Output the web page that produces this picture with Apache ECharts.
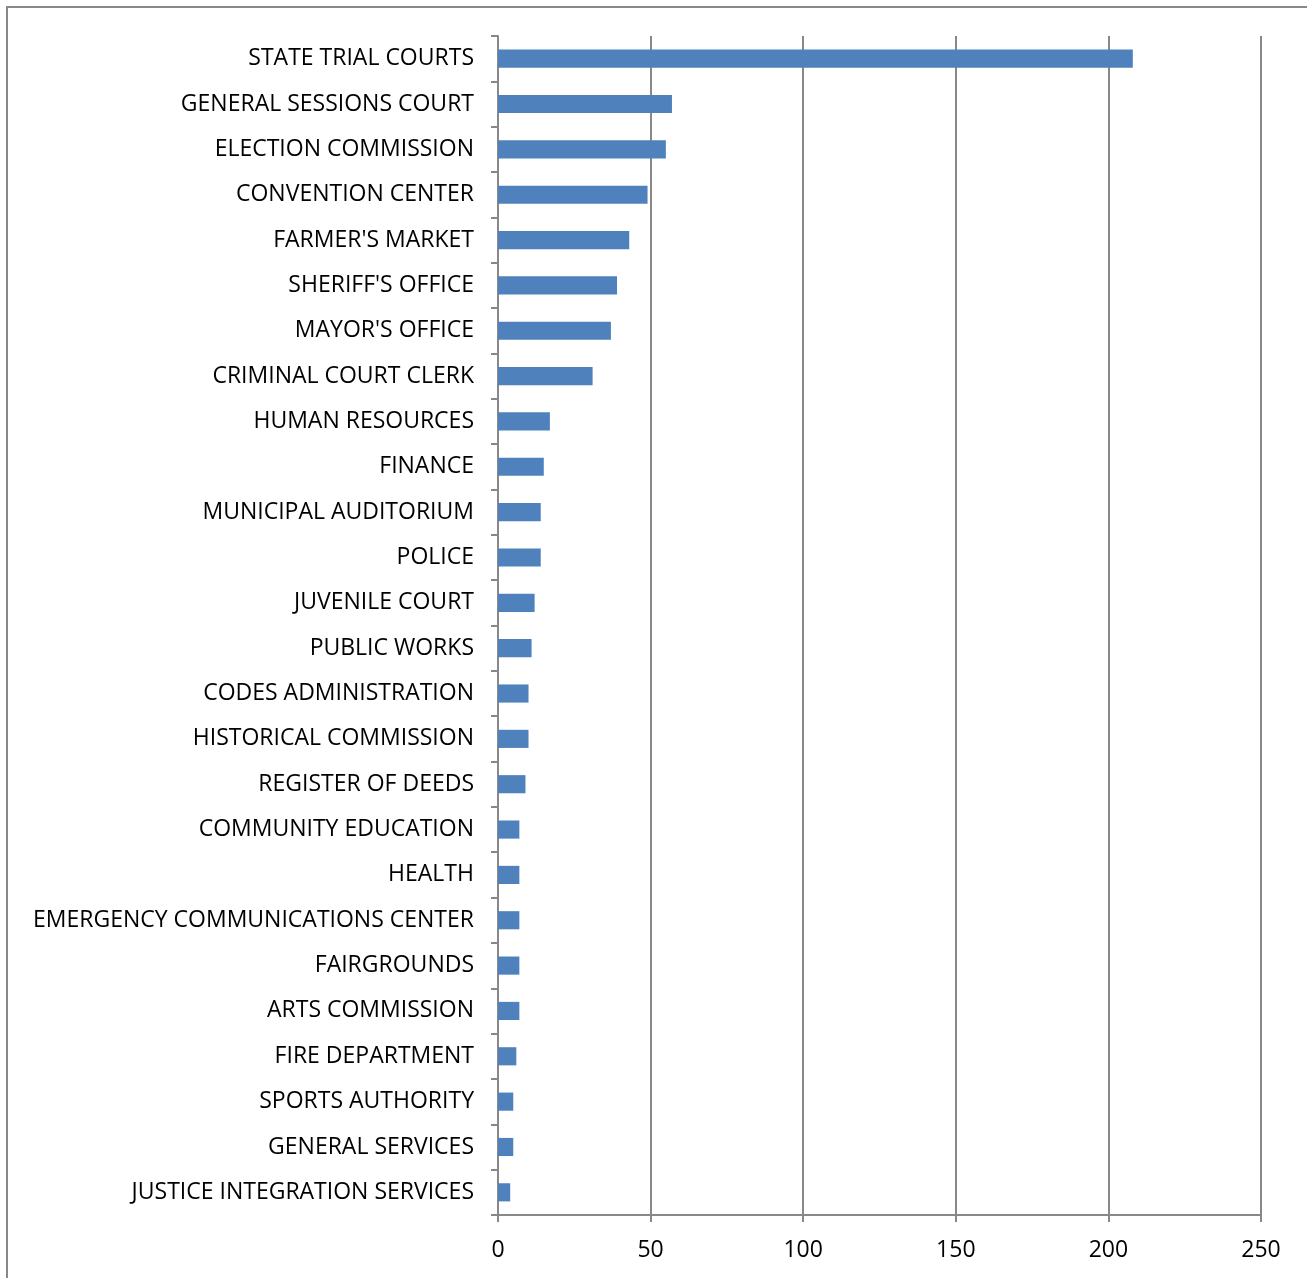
<!DOCTYPE html>
<html>
<head>
<meta charset="utf-8">
<script src="https://cdn.jsdelivr.net/npm/echarts@6/dist/echarts.min.js"></script>
<style>
  html, body { margin: 0; padding: 0; background: #fff; }
  #chart { width: 1307px; height: 1278px; }
</style>
</head>
<body>
<div id="chart"></div>
<script>
const departments = [
  'STATE TRIAL COURTS', 'GENERAL SESSIONS COURT', 'ELECTION COMMISSION', 'CONVENTION CENTER',
  "FARMER'S MARKET", "SHERIFF'S OFFICE", "MAYOR'S OFFICE", 'CRIMINAL COURT CLERK',
  'HUMAN RESOURCES', 'FINANCE', 'MUNICIPAL AUDITORIUM', 'POLICE', 'JUVENILE COURT',
  'PUBLIC WORKS', 'CODES ADMINISTRATION', 'HISTORICAL COMMISSION', 'REGISTER OF DEEDS',
  'COMMUNITY EDUCATION', 'HEALTH', 'EMERGENCY COMMUNICATIONS CENTER', 'FAIRGROUNDS',
  'ARTS COMMISSION', 'FIRE DEPARTMENT', 'SPORTS AUTHORITY', 'GENERAL SERVICES',
  'JUSTICE INTEGRATION SERVICES'
];
const counts = [208, 57, 55, 49, 43, 39, 37, 31, 17, 15, 14, 14, 12, 11, 10, 10, 9, 7, 7, 7, 7, 7, 6, 5, 5, 4];

const chart = echarts.init(document.getElementById('chart'));
chart.setOption({
  animation: false,
  textStyle: { fontFamily: 'Open Sans' },
  graphic: [{
    type: 'rect',
    shape: { x: 7, y: 7, width: 1330, height: 1330 },
    style: { fill: 'none', stroke: '#888', lineWidth: 2 },
    silent: true
  }],
  grid: { left: 498, right: 46, top: 36, bottom: 63, containLabel: false },
  xAxis: {
    type: 'value',
    min: 0, max: 250, interval: 50,
    axisLine: { show: true, lineStyle: { color: '#888', width: 2 } },
    axisTick: { show: true, length: 7, lineStyle: { color: '#888', width: 2 } },
    axisLabel: { color: '#000', fontSize: 23, margin: 24 },
    splitLine: { show: true, lineStyle: { color: '#888', width: 2 } }
  },
  yAxis: {
    type: 'category',
    data: departments,
    inverse: true,
    axisLine: { show: true, lineStyle: { color: '#888', width: 2 } },
    axisTick: { show: true, length: 7, lineStyle: { color: '#888', width: 2 } },
    axisLabel: { color: '#000', fontSize: 23, margin: 24, padding: [6, 0, 0, 0] }
  },
  series: [{
    type: 'bar',
    data: counts,
    barCategoryGap: '60%',
    itemStyle: { color: '#4F81BD' }
  }]
});
</script>
</body>
</html>
